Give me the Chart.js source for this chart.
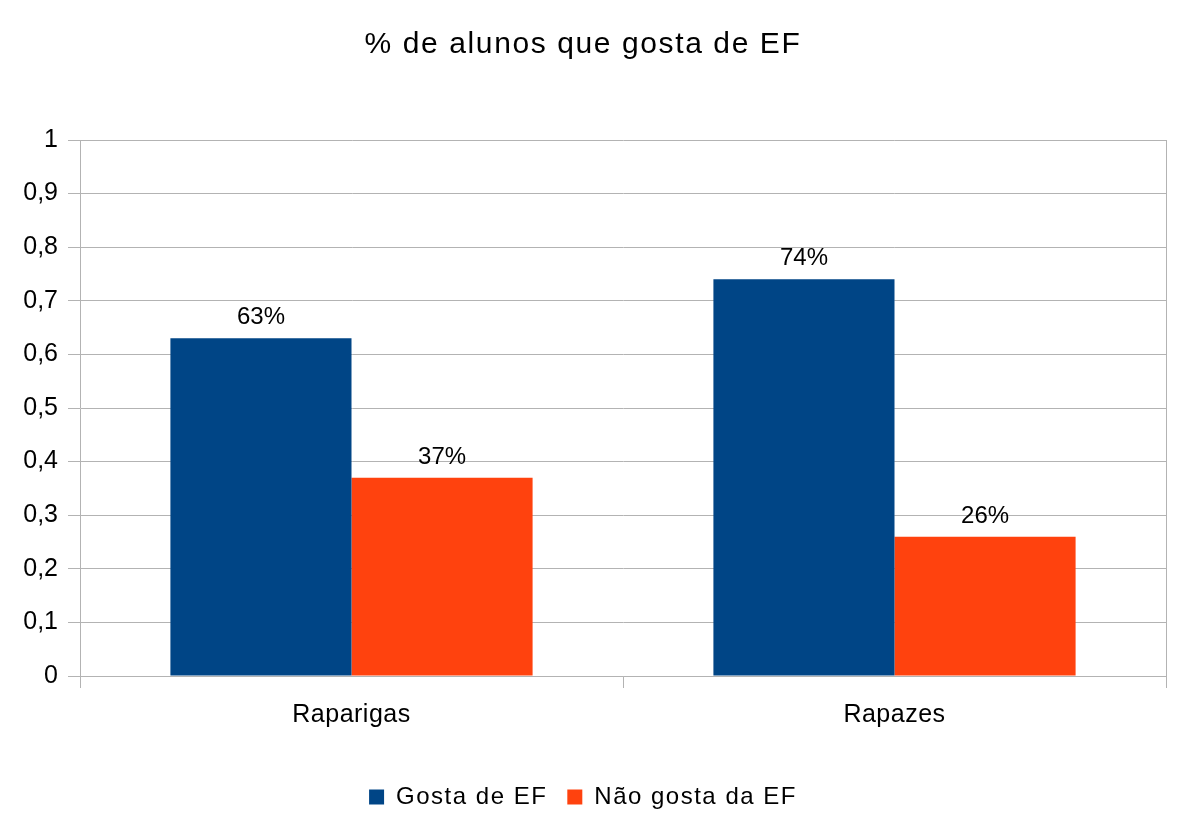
<!DOCTYPE html>
<html>
<head>
<meta charset="utf-8">
<script src="https://cdn.jsdelivr.net/npm/chart.js@4/dist/chart.umd.min.js"></script>
<style>
html,body{margin:0;padding:0;background:#fff;}
canvas{display:block;}
</style>
</head>
<body>
<canvas id="c" width="1191" height="831"></canvas>
<script>
const categories = ["Raparigas", "Rapazes"];
const seriesNames = ["Gosta de EF", "Não gosta da EF"];
const gostaValues = [0.63, 0.74];
const naoGostaValues = [0.37, 0.26];
const chartTitle = "% de alunos que gosta de EF";

const FONT = "'Liberation Sans', Arial, sans-serif";
const GRID = "#b3b3b3";

const dataLabels = {
  id: 'dataLabels',
  afterDatasetsDraw(chart) {
    const ctx = chart.ctx;
    ctx.save();
    ctx.font = "24px " + FONT;
    ctx.fillStyle = "#000";
    ctx.textAlign = "center";
    ctx.textBaseline = "alphabetic";
    chart.data.datasets.forEach((ds, i) => {
      const meta = chart.getDatasetMeta(i);
      meta.data.forEach((bar, j) => {
        const v = ds.data[j];
        ctx.fillText(Math.round(v * 100) + "%", bar.x, bar.y - 14);
      });
    });
    ctx.restore();
  }
};

const rightBorder = {
  id: 'rightBorder',
  beforeDatasetsDraw(chart) {
    const a = chart.chartArea;
    const ctx = chart.ctx;
    ctx.save();
    ctx.strokeStyle = GRID;
    ctx.lineWidth = 1;
    ctx.beginPath();
    ctx.moveTo(Math.round(a.right) + 0.5, a.top);
    ctx.lineTo(Math.round(a.right) + 0.5, a.bottom);
    ctx.stroke();
    ctx.restore();
  }
};

const spacingPatch = {
  id: 'spacingPatch',
  beforeLayout(chart) {
    if (chart._spPatched) return;
    chart._spPatched = true;
    const wrap = (obj, method, sp) => {
      if (!obj || !obj[method]) return;
      const orig = obj[method];
      obj[method] = function (...a) {
        const c = chart.ctx;
        const prev = c.letterSpacing;
        c.letterSpacing = sp;
        const r = orig.apply(this, a);
        c.letterSpacing = prev || '0px';
        return r;
      };
    };
    wrap(chart.titleBlock, 'draw', '1.6px');
    wrap(chart.legend, 'fit', '1.5px');
    wrap(chart.legend, 'draw', '1.5px');
  },
  beforeDraw(chart) {
    if (chart._spPatched2) return;
    chart._spPatched2 = true;
    const x = chart.scales.x;
    const orig = x.drawLabels;
    x.drawLabels = function (...a) {
      const c = chart.ctx;
      c.letterSpacing = '0.5px';
      const r = orig.apply(this, a);
      c.letterSpacing = '0px';
      return r;
    };
  }
};

new Chart(document.getElementById('c'), {
  type: 'bar',
  data: {
    labels: categories,
    datasets: [
      { label: seriesNames[0], data: gostaValues, backgroundColor: '#004586', borderWidth: 0 },
      { label: seriesNames[1], data: naoGostaValues, backgroundColor: '#ff420e', borderWidth: 0 }
    ]
  },
  options: {
    responsive: false,
    animation: false,
    layout: { padding: { left: 0, right: 25, top: 0, bottom: 12 } },
    datasets: { bar: { barPercentage: 1, categoryPercentage: 0.667 } },
    plugins: {
      title: {
        display: true,
        text: chartTitle,
        color: '#000',
        font: { family: FONT, size: 30, weight: 'normal' },
        padding: { top: 27, bottom: 77 }
      },
      legend: {
        display: true,
        position: 'bottom',
        labels: {
          color: '#000',
          font: { family: FONT, size: 24 },
          boxWidth: 15,
          boxHeight: 15,
          padding: 20
        }
      },
      tooltip: { enabled: false }
    },
    scales: {
      x: {
        grid: { display: true, drawOnChartArea: false, drawTicks: true, tickLength: 12, color: GRID, offset: true },
        border: { display: true, color: GRID },
        ticks: { color: '#000', font: { family: FONT, size: 25 }, padding: 12 },
        afterFit(s) { s.height = 89; }
      },
      y: {
        min: 0, max: 1,
        grid: { color: GRID, tickLength: 12 },
        border: { display: true, color: GRID },
        ticks: {
          stepSize: 0.1,
          color: '#000',
          font: { family: FONT, size: 25 },
          padding: 10,
          callback(v) {
            const r = Math.round(v * 10) / 10;
            if (r === 0) return "0";
            if (r === 1) return "1";
            return r.toFixed(1).replace('.', ',');
          }
        },
        afterFit(s) { s.width = 80; }
      }
    }
  },
  plugins: [spacingPatch, dataLabels, rightBorder]
});
</script>
</body>
</html>
